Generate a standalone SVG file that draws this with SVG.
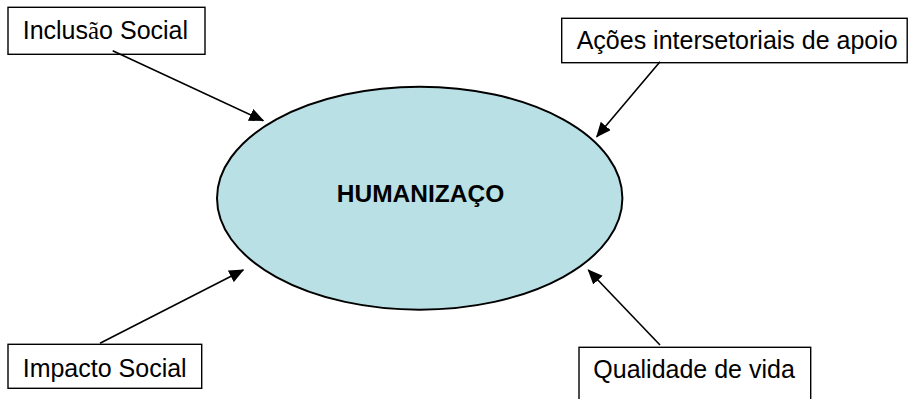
<svg xmlns="http://www.w3.org/2000/svg" width="908" height="399" viewBox="0 0 908 399">
  <style>
    .box { fill: #ffffff; stroke: #000000; stroke-width: 1.4; }
    .lbl { font-family: "Liberation Sans", Arial, sans-serif; font-size: 25px; fill: #000000; }
    .ser { font-family: "Liberation Serif", "Times New Roman", serif; }
    .conn { stroke: #000000; stroke-width: 1.6; fill: none; marker-end: url(#arr); }
    .center { fill: #b9e0e4; stroke: #000000; stroke-width: 2; }
    .title { font-family: "Liberation Sans", Arial, sans-serif; font-size: 24.5px; font-weight: bold; fill: #000000; }
  </style>
  <defs>
    <marker id="arr" markerUnits="userSpaceOnUse" markerWidth="15" markerHeight="13" viewBox="0 0 15 13" refX="14" refY="6.5" orient="auto">
      <path d="M0,0 L15,6.5 L0,13 z" fill="#000000"/>
    </marker>
  </defs>
  <rect x="0" y="0" width="908" height="399" fill="#ffffff"/>
  <g id="humanizacao">
    <ellipse class="center" cx="419.7" cy="198.2" rx="202.7" ry="111.5"/>
    <text class="title" x="420.5" y="201.7" text-anchor="middle">HUMANIZAÇO</text>
  </g>
  <g id="inclusao-social">
    <rect class="box" x="8" y="7.3" width="197" height="47"/>
    <text class="lbl" x="22.7" y="39.3">Inclus<tspan class="ser">ã</tspan>o Social</text>
  </g>
  <g id="acoes-intersetoriais">
    <rect class="box" x="561.7" y="18.3" width="345.5" height="44.4"/>
    <text class="lbl" x="576.7" y="49.3">Ações intersetoriais de apoio</text>
  </g>
  <g id="impacto-social">
    <rect class="box" x="8" y="344.3" width="193.7" height="44"/>
    <text class="lbl" x="22.7" y="376.7">Impacto Social</text>
  </g>
  <g id="qualidade-de-vida">
    <rect class="box" x="579" y="347.3" width="231.7" height="60"/>
    <text class="lbl" x="593.3" y="378.3">Qualidade de vida</text>
  </g>
  <g id="connectors">
    <line class="conn" x1="112.7" y1="50.7" x2="263.3" y2="120.7"/>
    <line class="conn" x1="660" y1="61.7" x2="596.7" y2="136.7"/>
    <line class="conn" x1="100" y1="343.3" x2="243.3" y2="270"/>
    <line class="conn" x1="660" y1="345" x2="588.3" y2="270"/>
  </g>
</svg>
